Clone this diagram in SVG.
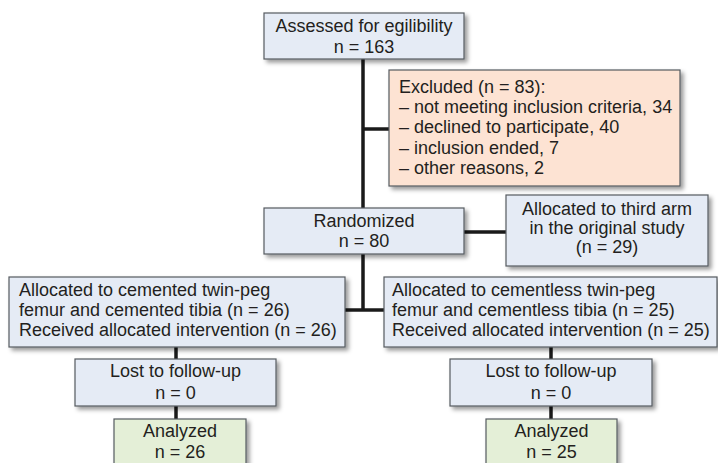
<svg xmlns="http://www.w3.org/2000/svg" width="718" height="463" viewBox="0 0 718 463">
<defs>
<filter id="sh" x="-10%" y="-10%" width="130%" height="140%">
<feDropShadow dx="3" dy="3" stdDeviation="2" flood-color="#000" flood-opacity="0.4"/>
</filter>
<style>
.box{stroke:#555a60;stroke-width:1.2;filter:url(#sh)}
.blue{fill:#e5ebf5}
.peach{fill:#fde3d3}
.green{fill:#e4efd7}
text{font-family:"Liberation Sans",Arial,sans-serif;font-size:18px;fill:#231f20}
.c{text-anchor:middle}
.ln{stroke:#1a1a1a;stroke-width:3.5;fill:none}
</style>
</defs>
<rect width="718" height="463" fill="#fff"/>
<g id="connectors">
<line class="ln" x1="363" y1="59" x2="363" y2="208"/>
<line class="ln" x1="363" y1="129" x2="389" y2="129"/>
<line class="ln" x1="464" y1="232" x2="506" y2="232"/>
<line class="ln" x1="363" y1="254" x2="363" y2="310"/>
<line class="ln" x1="345" y1="310" x2="384" y2="310"/>
<line class="ln" x1="176" y1="347" x2="176" y2="359"/>
<line class="ln" x1="176" y1="406" x2="176" y2="419"/>
<line class="ln" x1="551" y1="347" x2="551" y2="359"/>
<line class="ln" x1="551" y1="406" x2="551" y2="419"/>
</g>
<g id="assessed">
<rect class="box blue" x="264" y="13" width="200" height="46"/>
<text class="c" x="364" y="32">Assessed for egilibility</text>
<text class="c" x="364" y="53">n = 163</text>
</g>
<g id="excluded">
<rect class="box peach" x="389" y="70" width="291" height="116"/>
<text x="399" y="93">Excluded (n = 83):</text>
<text x="399" y="113">– not meeting inclusion criteria, 34</text>
<text x="399" y="133">– declined to participate, 40</text>
<text x="399" y="154">– inclusion ended, 7</text>
<text x="399" y="174">– other reasons, 2</text>
</g>
<g id="randomized">
<rect class="box blue" x="264" y="208" width="200" height="46"/>
<text class="c" x="364" y="227">Randomized</text>
<text class="c" x="364" y="247">n = 80</text>
</g>
<g id="thirdarm">
<rect class="box blue" x="506" y="195" width="202" height="71"/>
<text class="c" x="607" y="215">Allocated to third arm</text>
<text class="c" x="607" y="234">in the original study</text>
<text class="c" x="607" y="253">(n = 29)</text>
</g>
<g id="alloc-cemented">
<rect class="box blue" x="9" y="277" width="336" height="70"/>
<text x="19" y="296">Allocated to cemented twin-peg</text>
<text x="19" y="316">femur and cemented tibia (n = 26)</text>
<text x="19" y="336">Received allocated intervention (n = 26)</text>
</g>
<g id="alloc-cementless">
<rect class="box blue" x="384" y="277" width="333" height="70"/>
<text x="392" y="296">Allocated to cementless twin-peg</text>
<text x="392" y="316">femur and cementless tibia (n = 25)</text>
<text x="392" y="336">Received allocated intervention (n = 25)</text>
</g>
<g id="lost-left">
<rect class="box blue" x="75" y="359" width="201" height="47"/>
<text class="c" x="175.5" y="377">Lost to follow-up</text>
<text class="c" x="175.5" y="399">n = 0</text>
</g>
<g id="lost-right">
<rect class="box blue" x="450" y="359" width="202" height="47"/>
<text class="c" x="551" y="377">Lost to follow-up</text>
<text class="c" x="551" y="399">n = 0</text>
</g>
<g id="analyzed-left">
<rect class="box green" x="114" y="419" width="132" height="50"/>
<text class="c" x="180" y="437">Analyzed</text>
<text class="c" x="180" y="458">n = 26</text>
</g>
<g id="analyzed-right">
<rect class="box green" x="486" y="419" width="131" height="50"/>
<text class="c" x="551.5" y="437">Analyzed</text>
<text class="c" x="551.5" y="458">n = 25</text>
</g>
</svg>
